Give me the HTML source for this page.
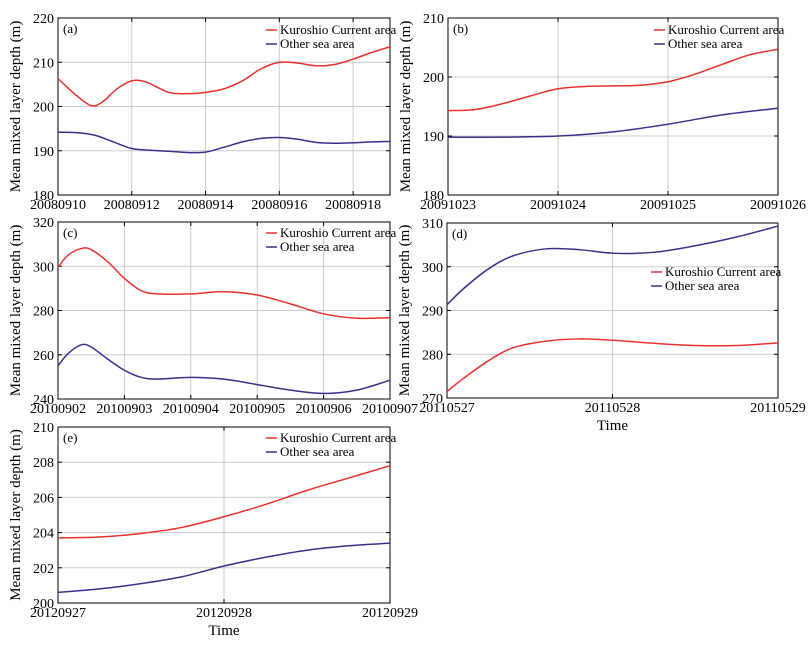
<!DOCTYPE html>
<html><head><meta charset="utf-8"><style>
body{margin:0;background:#fff}
svg{font-family:"Liberation Serif",serif}
</style></head><body>
<svg id="chart" width="812" height="641" xmlns="http://www.w3.org/2000/svg"></svg>
<script>
// panel (a)
const aTicksX=["20080910","20080912","20080914","20080916","20080918"];
const aTicksY=[180,190,200,210,220];
const aDays=[0,0.5,0.9,1.2,1.6,2,2.4,3,3.5,4,4.5,5,5.5,6,6.5,7,7.5,8,8.5,9];
const aKuro=[206.3,202.5,200.2,201,204,205.8,205.5,203.2,202.9,203.2,204,205.8,208.5,210,209.8,209.2,209.5,210.7,212.2,213.5];
const aDaysO=[0,0.5,1,1.5,2,2.5,3,3.5,4,4.5,5,5.5,6,6.5,7,7.5,8,8.5,9];
const aOther=[194.2,194.1,193.5,192,190.5,190.1,189.9,189.6,189.7,190.8,192,192.8,193,192.6,191.9,191.7,191.8,192,192.1];
// panel (b)
const bTicksX=["20091023","20091024","20091025","20091026"];
const bTicksY=[180,190,200,210];
const bDays=[0,0.25,0.5,0.75,1,1.25,1.5,1.75,2,2.25,2.5,2.75,3];
const bKuro=[194.3,194.5,195.5,196.8,198,198.4,198.5,198.6,199.2,200.5,202.2,203.8,204.7];
const bDaysO=[0,0.5,1,1.5,2,2.5,3];
const bOther=[189.8,189.8,190,190.7,192,193.6,194.7];
// panel (c)
const cTicksX=["20100902","20100903","20100904","20100905","20100906","20100907"];
const cTicksY=[240,260,280,300,320];
const cDays=[0,0.15,0.35,0.5,0.75,1,1.25,1.5,2,2.5,3,3.5,4,4.5,5];
const cKuro=[299.5,305,308,307.5,302,294.5,289,287.5,287.5,288.5,287,283,278.5,276.5,276.8];
const cOther=[255,260.5,264.5,263.5,258,253,249.8,249,249.8,249,246.5,244,242.5,244,248.5];
// panel (d)
const dTicksX=["20110527","20110528","20110529"];
const dTicksY=[270,280,290,300,310];
const dDays=[0,0.1,0.25,0.4,0.6,0.8,1,1.25,1.5,1.75,2];
const dKuro=[271.5,274.5,278.5,281.5,283,283.5,283.2,282.5,282,282,282.6];
const dOther=[291.3,295,299.5,302.5,304.1,303.9,303.1,303.3,304.8,306.8,309.3];
// panel (e)
const eTicksX=["20120927","20120928","20120929"];
const eTicksY=[200,202,204,206,208,210];
const eDays=[0,0.25,0.5,0.75,1,1.25,1.5,1.75,2];
const eKuro=[203.7,203.75,203.95,204.3,204.9,205.6,206.4,207.1,207.8];
const eOther=[200.6,200.8,201.1,201.5,202.1,202.6,203,203.25,203.4];

const NS="http://www.w3.org/2000/svg";
const svg=document.getElementById('chart');
function mk(tag,attrs,parent){const e=document.createElementNS(NS,tag);for(const k in attrs)e.setAttribute(k,attrs[k]);(parent||svg).appendChild(e);return e;}
function smooth(pts){let d=`M${pts[0][0]},${pts[0][1]}`;for(let i=0;i<pts.length-1;i++){const p0=pts[i-1]||pts[i],p1=pts[i],p2=pts[i+1],p3=pts[i+2]||p2;const c1=[p1[0]+(p2[0]-p0[0])/6,p1[1]+(p2[1]-p0[1])/6],c2=[p2[0]-(p3[0]-p1[0])/6,p2[1]-(p3[1]-p1[1])/6];d+=` C${c1[0]},${c1[1]} ${c2[0]},${c2[1]} ${p2[0]},${p2[1]}`;}return d;}
function panel(cfg){
 const g=mk('g',{});
 
 
 const {l,r,t,b}=cfg;const xmax=cfg.xmax;const step=cfg.step||1;
 const ymin=cfg.yt[0],ymax=cfg.yt[cfg.yt.length-1];
 const X=v=>l+(r-l)*v/xmax, Y=v=>b-(b-t)*(v-ymin)/(ymax-ymin);
 cfg.xt.forEach((lab,i)=>{const v=i*step;const x=X(v);
  if(v>0&&v<xmax){const gl=mk('line',{x1:x,x2:x,y1:t,y2:b,stroke:'#ccc','stroke-width':1},g);}
  mk('line',{x1:x,x2:x,y1:b,y2:b-4,stroke:'#000'},g);mk('line',{x1:x,x2:x,y1:t,y2:t+4,stroke:'#000'},g);
  const tx=mk('text',{x:x,y:b+14,'font-size':14,'text-anchor':'middle'},g);tx.textContent=lab;
  });
 cfg.yt.forEach((v,i)=>{const y=Y(v);
  if(i>0&&i<cfg.yt.length-1){const gl=mk('line',{x1:l,x2:r,y1:y,y2:y,stroke:'#ccc','stroke-width':1},g);}
  mk('line',{x1:l,x2:l+4,y1:y,y2:y,stroke:'#000'},g);mk('line',{x1:r,x2:r-4,y1:y,y2:y,stroke:'#000'},g);
  const tx=mk('text',{x:l-4,y:y+5,'font-size':14,'text-anchor':'end'},g);tx.textContent=v;
  });
 const fr=mk('rect',{x:l,y:t,width:r-l,height:b-t,fill:'none',stroke:'#000','stroke-width':1},g);
 
 const k=mk('path',{d:smooth(cfg.kx.map((d,i)=>[X(d),Y(cfg.k[i])])),fill:'none',stroke:'#e8302e','stroke-width':1.5},g);
 
 const o=mk('path',{d:smooth(cfg.ox.map((d,i)=>[X(d),Y(cfg.o[i])])),fill:'none',stroke:'#3b2f8c','stroke-width':1.5},g);
 
 const pl=mk('text',{x:l+5,y:t+15,'font-size':13},g);pl.textContent='('+cfg.id+')';
 
 const yl=mk('text',{x:0,y:0,'font-size':15,'text-anchor':'middle',transform:`translate(${l-38},${(t+b)/2}) rotate(-90)`},g);yl.textContent='Mean mixed layer depth (m)';
 
 const lg=mk('g',{},g);
 [['Kuroshio Current area','#e8302e'],['Other sea area','#3b2f8c']].forEach((e,i)=>{const y=cfg.ly+i*14;
  mk('line',{x1:cfg.lx,x2:cfg.lx+11,y1:y-4,y2:y-4,stroke:e[1],'stroke-width':1.5},lg);
  const tx=mk('text',{x:cfg.lx+14,y:y,'font-size':13},lg);tx.textContent=e[0];
  });
 if(cfg.time){const tt=mk('text',{x:(l+r)/2,y:b+32,'font-size':15,'text-anchor':'middle'},g);tt.textContent='Time';
  }
}
panel({id:'a',l:58,r:390,t:18,b:195,xt:aTicksX,xmax:9,step:2,yt:aTicksY,kx:aDays,k:aKuro,ox:aDaysO,o:aOther,lx:266,ly:34});
panel({id:'b',l:448,r:778,t:18,b:195,xt:bTicksX,xmax:3,yt:bTicksY,kx:bDays,k:bKuro,ox:bDaysO,o:bOther,lx:654,ly:34});
panel({id:'c',l:58,r:390,t:222,b:399,xt:cTicksX,xmax:5,yt:cTicksY,kx:cDays,k:cKuro,ox:cDays,o:cOther,lx:266,ly:237});
panel({id:'d',l:447,r:778,t:223,b:398,xt:dTicksX,xmax:2,yt:dTicksY,kx:dDays,k:dKuro,ox:dDays,o:dOther,lx:651,ly:276,time:true});
panel({id:'e',l:58,r:390,t:427,b:603,xt:eTicksX,xmax:2,yt:eTicksY,kx:eDays,k:eKuro,ox:eDays,o:eOther,lx:266,ly:442,time:true});
</script>
</body></html>
